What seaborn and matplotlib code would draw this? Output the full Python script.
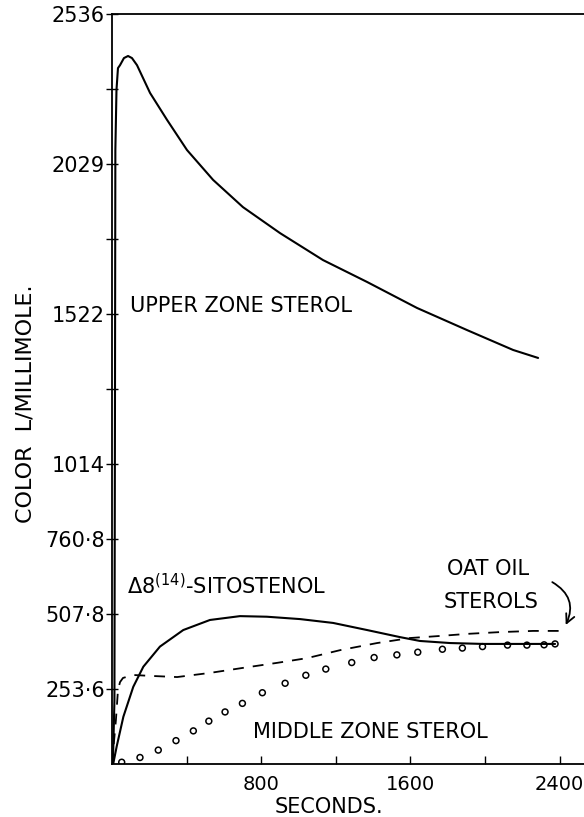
import numpy as np
import pandas as pd
import matplotlib
matplotlib.use("Agg")
import matplotlib.pyplot as plt
import seaborn as sns

# values (seconds vs colour L / millimole)
upper_sec = [0, 5, 13, 16, 18, 24, 32, 43, 64, 86, 107, 134, 166, 204, 295, 402,
             542, 702, 901, 1131, 1367, 1635, 1904, 2150, 2284]
upper_val = [0, 3, 216, 1231, 2076, 2279, 2353, 2363, 2387, 2394, 2387, 2363, 2320,
             2269, 2178, 2076, 1975, 1883, 1795, 1704, 1630, 1542, 1467, 1400, 1373]

sito_sec = [0, 7, 25, 61, 114, 168, 257, 382, 525, 686, 830, 1008, 1185, 1367,
            1544, 1651, 1812, 1989, 2172, 2375]
sito_val = [0, 2, 59, 160, 261, 329, 397, 453, 487, 500, 498, 490, 477, 453,
            429, 416, 409, 406, 406, 406]

oat_sec = [0, 21, 32, 43, 59, 113, 204, 349, 525, 702, 885, 1046, 1223, 1421,
           1598, 1759, 1904, 2080, 2257, 2418]
oat_val = [0, 149, 250, 277, 291, 301, 298, 294, 308, 325, 342, 358, 385, 409,
           426, 433, 440, 446, 450, 450]

middle_sec = [52, 150, 248, 343, 436, 519, 606, 699, 806, 928, 1039, 1146, 1285,
              1405, 1527, 1639, 1771, 1878, 1986, 2120, 2224, 2316, 2375]
middle_val = [6, 22, 47, 79, 112, 145, 176, 205, 241, 273, 300, 321, 343, 360,
              369, 378, 388, 392, 397, 402, 402, 403, 406]

y_ticks = [253.6, 507.2, 760.8, 1014.4, 1268.0, 1521.6, 1775.2, 2028.8, 2282.4, 2536.0]
y_tick_labels = ["253·6", "507·8", "760·8", "1014", "", "1522", "", "2029", "", "2536"]
x_ticks = [400, 800, 1200, 1600, 2000, 2400]
x_tick_labels = ["", "800", "", "1600", "", "2400"]

sns.set_style("ticks")
plt.rcParams['font.family'] = ['DejaVu Sans']
plt.rcParams['text.color'] = 'black'
plt.rcParams['axes.labelcolor'] = 'black'
plt.rcParams['xtick.color'] = 'black'
plt.rcParams['ytick.color'] = 'black'

fig = plt.figure(figsize=(5.84, 8.17), dpi=100)
ax = fig.add_axes([112 / 584, 53 / 817, 472 / 584, 750 / 817])

sns.lineplot(x=upper_sec, y=upper_val, ax=ax, color='black', lw=1.5, sort=False, errorbar=None)
sns.lineplot(x=sito_sec, y=sito_val, ax=ax, color='black', lw=1.5, sort=False, errorbar=None)
sns.lineplot(x=oat_sec, y=oat_val, ax=ax, color='black', lw=1.3, sort=False, errorbar=None,
             linestyle=(0, (6, 5)))
sns.scatterplot(x=middle_sec, y=middle_val, ax=ax, marker='o', s=18,
                facecolor='none', edgecolor='black', linewidth=1.1)

ax.set_xlim(0, 2530)
ax.set_ylim(0, 2536)
ax.set_xticks(x_ticks)
ax.set_xticklabels(x_tick_labels, fontsize=14)
ax.set_yticks(y_ticks)
ax.set_yticklabels(y_tick_labels, fontsize=15)
ax.tick_params(axis='x', direction='in', length=6, width=1, pad=8)
ax.tick_params(axis='y', direction='inout', length=8, width=1, pad=1)
ax.spines['right'].set_visible(False)
for side in ['left', 'bottom', 'top']:
    ax.spines[side].set_linewidth(1.3)
    ax.spines[side].set_color('black')

ax.set_xlabel("SECONDS.", fontsize=15)
ax.xaxis.set_label_coords(0.46, -0.044)
ax.xaxis.label.set_va('top')
fig.text(26 / 584, 1 - 404 / 817, "COLOR  L/MILLIMOLE.", rotation=90,
         ha='center', va='center', fontsize=16)

ax.text(96, 1549, "UPPER ZONE STEROL", fontsize=15, ha='left', va='center')
ax.text(80, 602, r"$\mathregular{\Delta8^{(14)}}$-SITOSTENOL", fontsize=15, ha='left', va='center')
ax.text(2016, 659, "OAT OIL", fontsize=15, ha='center', va='center')
ax.text(2032, 548, "STEROLS", fontsize=15, ha='center', va='center')
ax.text(756, 108, "MIDDLE ZONE STEROL", fontsize=15, ha='left', va='center')
ax.annotate("", xy=(2432, 470), xytext=(2360, 615),
            arrowprops=dict(arrowstyle='->', color='black', lw=1.3, mutation_scale=16,
                            shrinkA=0, shrinkB=0,
                            connectionstyle="arc3,rad=-0.45"))

fig.savefig("out.png", dpi=100)
